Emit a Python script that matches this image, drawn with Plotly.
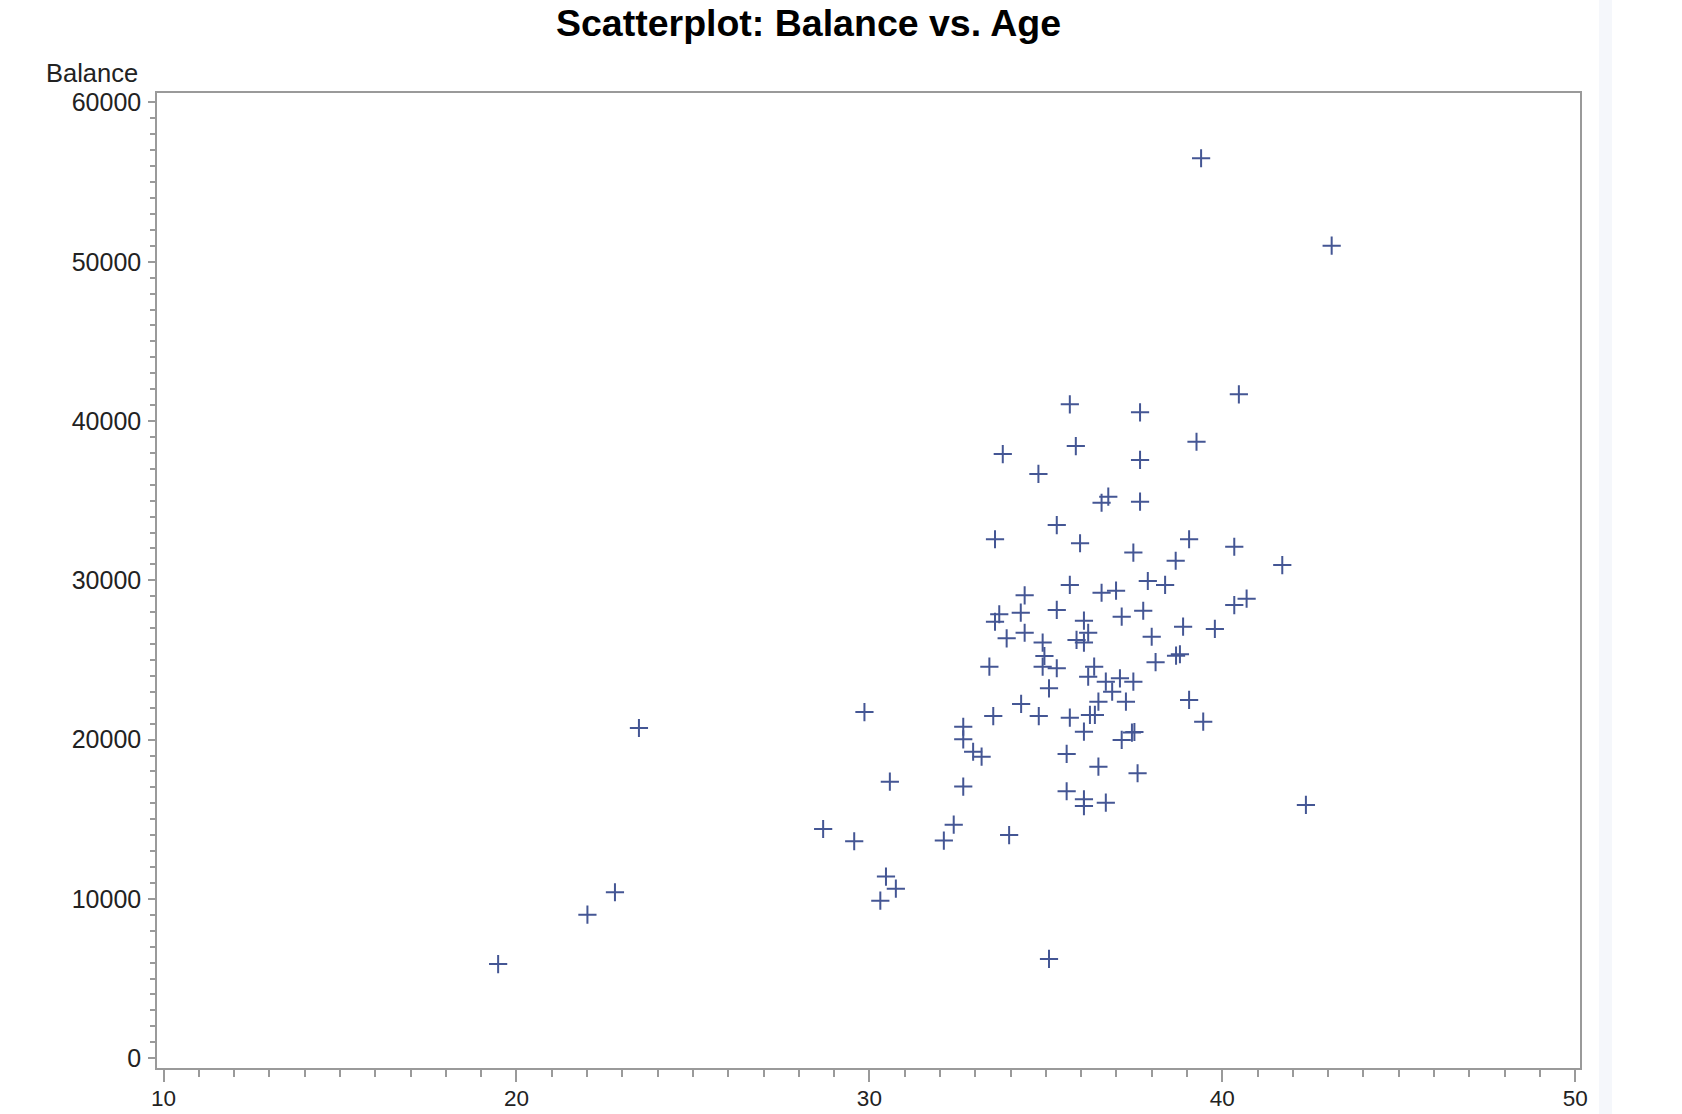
import plotly.graph_objects as go

# Data
age = [19.48, 22.01, 22.79, 23.47, 28.69, 29.57, 29.86, 30.31, 30.47, 30.58,
       30.75, 32.11, 32.39, 32.66, 32.66, 32.66, 32.94, 33.18, 33.40, 33.51,
       33.56, 33.56, 33.68, 33.78, 33.89, 33.96, 34.29, 34.30, 34.40, 34.40,
       34.79, 34.80, 34.91, 34.96, 34.91, 35.09, 35.09, 35.31, 35.31, 35.31,
       35.59, 35.59, 35.68, 35.68, 35.68, 35.85, 35.87, 35.97, 36.08, 36.08,
       36.08, 36.08, 36.08, 36.20, 36.20, 36.25, 36.39, 36.37, 36.49, 36.49,
       36.58, 36.77, 36.58, 36.70, 36.70, 36.88, 36.99, 37.10, 37.15, 37.15,
       37.27, 37.48, 37.48, 37.44, 37.51, 37.60, 37.67, 37.67, 37.67, 37.76,
       37.89, 38.00, 38.11, 38.38, 38.68, 38.69, 38.80, 38.89, 39.06, 39.06,
       39.27, 39.40, 39.46, 39.79, 40.34, 40.34, 40.47, 40.69, 41.70, 42.37,
       43.10]
balance = [5910, 9010, 10420, 20730, 14390, 13620, 21730, 9890, 11400, 17360,
           10640, 13660, 14660, 20810, 20020, 17050, 19240, 18930, 24580, 21480,
           32580, 27400, 27870, 37930, 26360, 14010, 27970, 22240, 29060, 26710,
           36680, 21480, 26090, 25250, 24580, 23220, 6230, 33470, 28140, 24480,
           19100, 16760, 41050, 29710, 21380, 38430, 26260, 32330, 27470, 26090,
           20500, 16250, 15830, 26710, 23950, 21550, 21550, 24580, 22380, 18300,
           34870, 35250, 29220, 23640, 16040, 23010, 29350, 23850, 27720, 19980,
           22380, 31740, 23640, 20440, 20480, 17890, 40550, 37560, 34940, 28090,
           29960, 26460, 24860, 29710, 31230, 25270, 25360, 27090, 32580, 22490,
           38700, 56500, 21130, 26950, 32110, 28450, 41680, 28850, 30960, 15900,
           51010]

x_ticks = [10, 20, 30, 40, 50]
y_ticks = [0, 10000, 20000, 30000, 40000, 50000, 60000]

W, H = 1682, 1114
L, R, T, B = 157, 1580, 93, 1068

fig = go.Figure()
fig.add_trace(go.Scatter(
    x=age, y=balance, mode="markers",
    marker=dict(symbol="cross-thin", size=13, color="#445694",
                line=dict(color="#445694", width=2)),
    showlegend=False, hoverinfo="x+y"))

axis_color = "#9a9a9a"
fig.update_layout(
    width=W, height=H,
    margin=dict(l=L, r=W - R, t=T, b=H - B, pad=0, autoexpand=False),
    paper_bgcolor="white", plot_bgcolor="white",
    font=dict(family="Liberation Sans, Arial, sans-serif", color="#222222"),
    title=dict(text="Scatterplot: Balance vs. Age",
               font=dict(size=37.5, color="#000000", weight="bold",
                         family="Liberation Sans, Arial, sans-serif"),
               x=808.5 / W, xref="container", xanchor="center",
               y=1 - 23 / H, yref="container", yanchor="middle",
               automargin=False),
    xaxis=dict(range=[9.813, 50.137], tickvals=x_ticks, ticks="outside",
               ticklen=12, tickwidth=1.5, tickcolor=axis_color,
               showline=True, linecolor=axis_color, linewidth=1.5, mirror=True,
               showgrid=False, zeroline=False, automargin=False,
               ticklabelstandoff=-3,
               tickfont=dict(size=22.5, color="#222222"),
               minor=dict(dtick=1, ticks="outside", ticklen=7, tickwidth=1.5,
                          tickcolor=axis_color, showgrid=False)),
    yaxis=dict(range=[-615, 60595], tickvals=y_ticks, tickformat="d",
               ticks="outside", ticklen=7, tickwidth=1.5, tickcolor=axis_color,
               showline=True, linecolor=axis_color, linewidth=1.5, mirror=True,
               showgrid=False, zeroline=False, automargin=False,
               ticklabelstandoff=2,
               tickfont=dict(size=25, color="#222222"),
               minor=dict(dtick=1000, ticks="outside", ticklen=5, tickwidth=1.5,
                          tickcolor=axis_color, showgrid=False)),
)

fig.add_annotation(text="Balance", xref="paper", yref="paper",
                   x=(139.5 - L) / (R - L), y=(B - 73.3) / (B - T),
                   xanchor="right", yanchor="middle", showarrow=False,
                   font=dict(size=25.5, color="#222222"))

# faint light band at the right edge of the page
fig.add_shape(type="rect", xref="paper", yref="paper",
              x0=(1599 - L) / (R - L), x1=(1612 - L) / (R - L),
              y0=(B - H) / (B - T), y1=B / (B - T),
              fillcolor="#f5f7fb", line=dict(width=0), layer="below")

fig.write_html("out.html")
